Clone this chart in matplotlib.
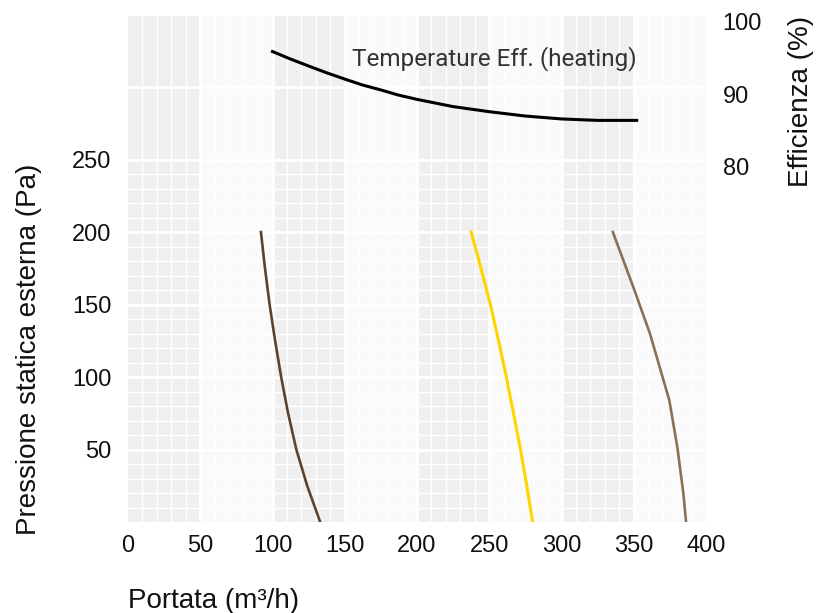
import matplotlib
matplotlib.use("Agg")
import matplotlib.pyplot as plt
from matplotlib import font_manager as fm

# curves
portata_1 = [92, 94.8, 98, 101.8, 106, 110.8, 116.5, 124, 133]
pressione_1 = [200, 175, 150, 125, 100, 75, 50, 25, 0]

portata_2 = [237.5, 244.3, 250.8, 256.5, 261.8, 266.8, 271.6, 276, 280]
pressione_2 = [200, 175, 150, 125, 100, 75, 50, 25, 0]

portata_3 = [335.5, 349.7, 361.2, 374.6, 380.1, 384.3, 386.2]
pressione_3 = [200, 162, 130, 84, 52, 20, 0]

portata_eff = [100, 112, 125, 137, 150, 162, 175, 187, 200, 225, 250, 275, 300, 325, 352]
efficienza = [95.9, 94.9, 93.9, 93.0, 92.1, 91.3, 90.6, 89.9, 89.3, 88.3, 87.6, 87.0, 86.6, 86.4, 86.4]

x_ticks = [0, 50, 100, 150, 200, 250, 300, 350, 400]
y_ticks = [50, 100, 150, 200, 250]
eff_ticks = [80, 90, 100]

plt.rcParams['font.family'] = ['Liberation Sans', 'DejaVu Sans']


def pick_font(names):
    for n in names:
        try:
            fm.findfont(n, fallback_to_default=False)
            return n
        except Exception:
            pass
    return 'Liberation Sans'


label_font = pick_font(['Liberation Sans Narrow', 'Roboto', 'Liberation Sans'])

fig = plt.figure(figsize=(8.18, 6.13), dpi=100)
ax = fig.add_axes([128 / 818, 91 / 613, 578 / 818, 506 / 613])
ax.set_xlim(0, 400)
ax.set_ylim(0, 349)

# striped background
dark = '#efefef'
light = '#fafafa'
for i in range(8):
    ax.axvspan(i * 50, (i + 1) * 50, color=dark if i % 2 == 0 else light, lw=0, zorder=0)
for xv in range(10, 400, 10):
    ax.axvline(xv, color='white', lw=2.0 if xv % 50 == 0 else 1.0, zorder=1)
for yv in range(10, 250, 10):
    if yv % 50:
        ax.axhline(yv, color='white', lw=1.0, zorder=1)
for yv in [50, 100, 150, 200, 250, 300]:
    ax.axhline(yv, color='white', lw=2.0, zorder=1)

ax.plot(portata_1, pressione_1, color='#5b4330', lw=1.9, zorder=3)
ax.plot(portata_2, pressione_2, color='#ffd500', lw=2.2, zorder=3)
ax.plot(portata_3, pressione_3, color='#8c7054', lw=1.9, zorder=3)

ax.set_xticks(x_ticks)
ax.set_yticks(y_ticks)
ax.tick_params(length=0, labelsize=17, colors='#111111')
ax.tick_params(axis='x', pad=9)
ax.tick_params(axis='y', pad=12)
for s in ax.spines.values():
    s.set_visible(False)

ax.set_xlabel('Portata (m³/h)', fontsize=20, loc='left', color='#111111')
ax.xaxis.set_label_coords(0, -0.13)
ax.set_ylabel('Pressione statica esterna (Pa)', fontsize=20, loc='bottom', color='#111111')
ax.yaxis.set_label_coords(-0.148, -0.026)

ax2 = ax.twinx()
ax2.set_ylim(31.0, 100.8)
ax2.plot(portata_eff, efficienza, color='black', lw=2.2, zorder=3)
ax2.set_yticks(eff_ticks)
ax2.tick_params(length=0, labelsize=17, pad=12, colors='#111111')
for s in ax2.spines.values():
    s.set_visible(False)
ax2.set_ylabel('Efficienza (%)', fontsize=20, loc='top', color='#111111')
ax2.yaxis.set_label_coords(1.142, 1.0)

ax2.text(352, 94.0, 'Temperature Eff. (heating)', ha='right', va='baseline',
         fontsize=17.5, color='#333333', family=label_font)

fig.savefig('out.png', dpi=100)
